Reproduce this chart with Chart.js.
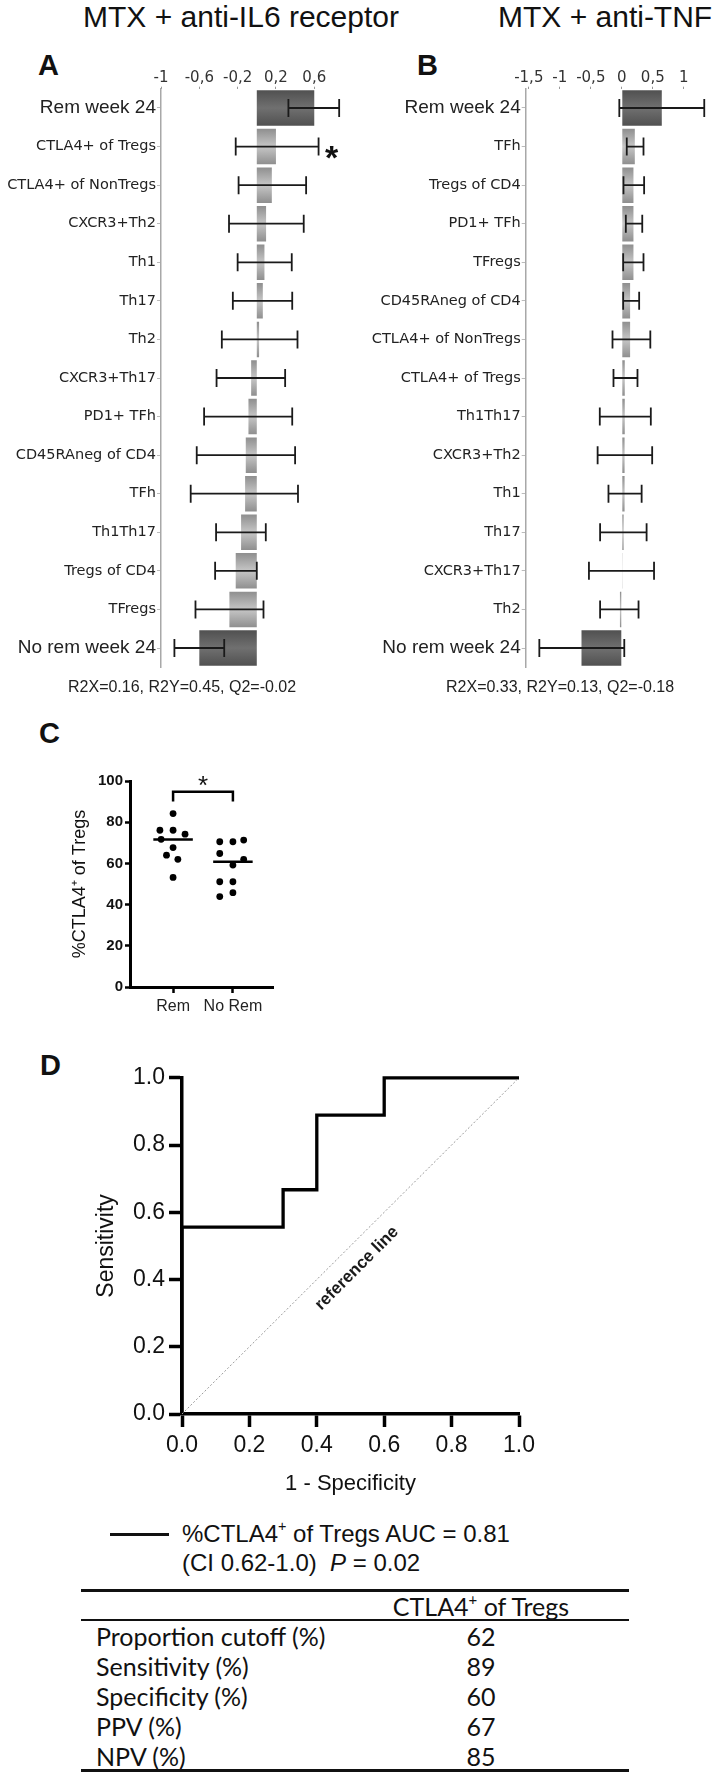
<!DOCTYPE html>
<html>
<head>
<meta charset="utf-8">
<script src="https://cdn.jsdelivr.net/npm/chart.js@4.4.1/dist/chart.umd.min.js"></script>
<style>
body{margin:0;background:#fff;}
#page{position:relative;width:720px;height:1774px;overflow:hidden;font-family:"Liberation Sans",Arial,sans-serif;color:#111;}
.t{position:absolute;white-space:nowrap;}
canvas{position:absolute;}
.rule{position:absolute;background:#111;}
.tab{font-family:Lato,"Open Sans",sans-serif;font-size:25px;line-height:28px;color:#111;}
sup{font-size:60%;line-height:0;vertical-align:0.75em;}
</style>
</head>
<body>
<div id="page">
  <div class="t" style="left:83px;top:0;font-size:30px;line-height:34px">MTX + anti-IL6 receptor</div>
  <div class="t" style="left:498px;top:0;font-size:30px;line-height:34px">MTX + anti-TNF</div>
  <div class="t" style="left:38px;top:48px;font-size:29px;line-height:34px;font-weight:bold">A</div>
  <div class="t" style="left:417px;top:48px;font-size:29px;line-height:34px;font-weight:bold">B</div>
  <canvas id="cA" width="350" height="620" style="left:0;top:60px"></canvas>
  <canvas id="cB" width="370" height="620" style="left:350px;top:60px"></canvas>
  <div class="t" style="left:68px;top:677px;font-size:16px;line-height:20px;color:#222">R2X=0.16, R2Y=0.45, Q2=-0.02</div>
  <div class="t" style="left:446px;top:677px;font-size:16px;line-height:20px;color:#222">R2X=0.33, R2Y=0.13, Q2=-0.18</div>

  <div class="t" style="left:39px;top:716px;font-size:29px;line-height:34px;font-weight:bold">C</div>
  <canvas id="cC" width="240" height="270" style="left:60px;top:760px"></canvas>

  <div class="t" style="left:40px;top:1048px;font-size:29px;line-height:34px;font-weight:bold">D</div>
  <canvas id="cD" width="480" height="440" style="left:60px;top:1060px"></canvas>

  <div class="rule" style="left:110px;top:1533px;width:59px;height:2.5px"></div>
  <div class="t" style="left:182px;top:1520px;font-size:24px;line-height:28px">%CTLA4<sup>+</sup> of Tregs AUC = 0.81</div>
  <div class="t" style="left:182px;top:1549px;font-size:24px;line-height:28px">(CI 0.62-1.0)&nbsp; <i>P</i> = 0.02</div>

  <div class="rule" style="left:81px;top:1589px;width:548px;height:2.5px"></div>
  <div class="t tab" style="left:371px;top:1592px;width:220px;text-align:center">CTLA4<sup>+</sup> of Tregs</div>
  <div class="rule" style="left:81px;top:1619px;width:548px;height:2px"></div>
  <div id="rows"></div>
  <div class="rule" style="left:81px;top:1769px;width:548px;height:2.5px"></div>
</div>
<script>
// ---- panel A: MTX + anti-IL6 receptor (coefficients with CI)
const catsA = ["Rem week 24", "CTLA4+ of Tregs", "CTLA4+ of NonTregs", "CXCR3+Th2", "Th1", "Th17", "Th2",
  "CXCR3+Th17", "PD1+ TFh", "CD45RAneg of CD4", "TFh", "Th1Th17", "Tregs of CD4", "TFregs", "No rem week 24"];
const coefA = [0.60, 0.20, 0.157, 0.097, 0.08, 0.063, 0.024, -0.059, -0.087, -0.115, -0.122, -0.164, -0.22, -0.286, -0.60];
const lowA  = [0.33, -0.22, -0.19, -0.29, -0.20, -0.25, -0.365, -0.42, -0.55, -0.627, -0.69, -0.425, -0.435, -0.64, -0.86];
const highA = [0.86, 0.645, 0.515, 0.49, 0.365, 0.37, 0.425, 0.296, 0.37, 0.40, 0.43, 0.094, 0.0, 0.07, -0.34];
const ticksA = [-1, -0.6, -0.2, 0.2, 0.6];

// ---- panel B: MTX + anti-TNF
const catsB = ["Rem week 24", "TFh", "Tregs of CD4", "PD1+ TFh", "TFregs", "CD45RAneg of CD4", "CTLA4+ of NonTregs",
  "CTLA4+ of Tregs", "Th1Th17", "CXCR3+Th2", "Th1", "Th17", "CXCR3+Th17", "Th2", "No rem week 24"];
const coefB = [0.645, 0.21, 0.188, 0.188, 0.188, 0.134, 0.134, 0.048, 0.048, 0.045, 0.045, 0.03, 0.005, -0.03, -0.65];
const lowB  = [-0.04, 0.08, 0.027, 0.065, 0.022, 0.022, -0.15, -0.134, -0.355, -0.39, -0.215, -0.35, -0.53, -0.35, -1.33];
const highB = [1.33, 0.35, 0.36, 0.33, 0.35, 0.28, 0.46, 0.253, 0.468, 0.49, 0.32, 0.40, 0.52, 0.27, 0.04];
const ticksB = [-1.5, -1, -0.5, 0, 0.5, 1];

// ---- panel C: %CTLA4+ of Tregs per group (x jitter in category units)
const groupsC = ["Rem", "No Rem"];
const remVals = [84.2, 76.1, 76.1, 74.2, 71.7, 67.7, 64, 62, 53.2];
const remJit = [0, -0.22, 0, 0.2, -0.2, 0, -0.11, 0.08, 0];
const noRemVals = [70.5, 70.5, 71.3, 64.8, 62, 59.2, 51.1, 51.1, 43.9, 45.8];
const noRemJit = [-0.22, 0, 0.18, -0.22, 0.18, 0, -0.22, 0, -0.22, 0];
const mediansC = [71.6, 60.8];
const ticksC = [0, 20, 40, 60, 80, 100];

// ---- panel D: ROC curve
const rocFpr = [0, 0, 0.3, 0.3, 0.4, 0.4, 0.6, 0.6, 1];
const rocTpr = [0, 0.556, 0.556, 0.667, 0.667, 0.889, 0.889, 1, 1];
const ticksD = [0, 0.2, 0.4, 0.6, 0.8, 1];

// ---- table
const tableRows = ["Proportion cutoff (%)", "Sensitivity (%)", "Specificity (%)", "PPV (%)", "NPV (%)"];
const tableVals = [62, 89, 60, 67, 85];

Chart.defaults.animation = false;
Chart.defaults.font.family = '"Liberation Sans", Arial, sans-serif';
Chart.defaults.color = '#222';
Chart.defaults.plugins.legend.display = false;
Chart.defaults.plugins.tooltip.enabled = false;

const setTicks = vals => s => { s.ticks = vals.map(v => ({ value: v })); };

function barPanel(id, cats, coef, low, high, opt) {
  const n = cats.length;
  const errPlugin = {
    id: 'err_' + id,
    afterDatasetsDraw(chart) {
      const { ctx, scales: { x, y } } = chart;
      ctx.save();
      ctx.strokeStyle = '#1a1a1a';
      ctx.lineWidth = 1.8;
      for (let i = 0; i < n; i++) {
        const yy = y.getPixelForValue(i);
        const x1 = x.getPixelForValue(low[i]), x2 = x.getPixelForValue(high[i]);
        ctx.beginPath();
        ctx.moveTo(x1, yy); ctx.lineTo(x2, yy);
        ctx.moveTo(x1, yy - 9); ctx.lineTo(x1, yy + 9);
        ctx.moveTo(x2, yy - 9); ctx.lineTo(x2, yy + 9);
        ctx.stroke();
      }
      if (opt.star != null) {
        const i = opt.star;
        ctx.fillStyle = '#111';
        ctx.font = 'bold 34px "Liberation Sans"';
        ctx.textAlign = 'center';
        ctx.textBaseline = 'alphabetic';
        ctx.fillText('*', x.getPixelForValue(high[i]) + 13, y.getPixelForValue(i) + 22);
      }
      ctx.restore();
    }
  };
  const shade = c => {
    const ch = c.chart, ys = ch.scales.y;
    const dark = c.dataIndex === 0 || c.dataIndex === n - 1;
    const flat = dark ? '#606060' : '#aaaaaa';
    if (!ys) return flat;
    const yc = ys.getPixelForValue(c.dataIndex);
    if (!isFinite(yc)) return flat;
    const g = ch.ctx.createLinearGradient(0, yc - 18, 0, yc + 18);
    g.addColorStop(0, dark ? '#505050' : '#8e8e8e');
    g.addColorStop(0.5, dark ? '#707070' : '#c6c6c6');
    g.addColorStop(1, dark ? '#505050' : '#8e8e8e');
    return g;
  };
  return new Chart(document.getElementById(id), {
    type: 'bar',
    data: {
      labels: cats,
      datasets: [{ data: coef, backgroundColor: shade, borderWidth: 0, barPercentage: 0.92, categoryPercentage: 1 }]
    },
    options: {
      responsive: false,
      indexAxis: 'y',
      layout: { padding: { left: 0, top: 0, right: opt.padR, bottom: 12.7 } },
      scales: {
        x: {
          type: 'linear', position: 'top', min: opt.min, max: opt.max,
          afterBuildTicks: setTicks(opt.ticks),
          afterFit: s => { s.height = 28.7; },
          grid: { drawOnChartArea: false, tickLength: 2, color: '#999' },
          border: { display: false },
          ticks: {
            autoSkip: false, maxRotation: 0, padding: 0, color: '#333',
            font: { family: '"DejaVu Sans"', size: 15 },
            callback: v => String(v).replace('.', ',')
          }
        },
        y: {
          afterFit: s => { s.width = opt.axisW; },
          grid: { drawOnChartArea: false, offset: false, tickLength: 4, color: '#bbb' },
          border: { color: '#a8a8a8', width: 1.5 },
          ticks: {
            autoSkip: false, padding: 1, color: '#222',
            font: c => (c.index === 0 || c.index === n - 1)
              ? { family: '"Liberation Sans"', size: 19 }
              : { family: '"DejaVu Sans"', size: 14.5 }
          }
        }
      }
    },
    plugins: [errPlugin]
  });
}

barPanel('cA', catsA, coefA, lowA, highA, { min: -1, max: 0.9, ticks: ticksA, axisW: 161, padR: 7, star: 1 });
barPanel('cB', catsB, coefB, lowB, highB, { min: -1.55, max: 1.45, ticks: ticksB, axisW: 175.7, padR: 8.3, star: null });

// ---- panel C chart
const bracketC = { top: 94.8, foot: 90, starY: 100.5 };
const medHalf = 0.33;
const starPluginC = {
  id: 'starC',
  afterDatasetsDraw(chart) {
    const { ctx, scales: { x, y } } = chart;
    ctx.save();
    ctx.fillStyle = '#111';
    ctx.font = '26px "Liberation Sans"';
    ctx.textAlign = 'center';
    ctx.textBaseline = 'alphabetic';
    ctx.fillText('*', x.getPixelForValue(0.5), y.getPixelForValue(bracketC.starY) + 14);
    ctx.restore();
  }
};
new Chart(document.getElementById('cC'), {
  type: 'scatter',
  data: {
    datasets: [
      { data: remVals.map((v, i) => ({ x: remJit[i], y: v })), pointRadius: 3.4, backgroundColor: '#000', borderWidth: 0, clip: false },
      { data: noRemVals.map((v, i) => ({ x: 1 + noRemJit[i], y: v })), pointRadius: 3.4, backgroundColor: '#000', borderWidth: 0, clip: false },
      { showLine: true, data: [{ x: -medHalf, y: mediansC[0] }, { x: medHalf, y: mediansC[0] }], borderColor: '#000', borderWidth: 2.5, pointRadius: 0 },
      { showLine: true, data: [{ x: 1 - medHalf, y: mediansC[1] }, { x: 1 + medHalf, y: mediansC[1] }], borderColor: '#000', borderWidth: 2.5, pointRadius: 0 },
      { showLine: true, data: [{ x: 0, y: bracketC.foot }, { x: 0, y: bracketC.top }, { x: 1, y: bracketC.top }, { x: 1, y: bracketC.foot }],
        borderColor: '#000', borderWidth: 2.5, pointRadius: 0, clip: false }
    ]
  },
  options: {
    responsive: false,
    layout: { padding: { left: 0, top: 21, right: 27, bottom: 0 } },
    scales: {
      x: {
        type: 'linear', min: -0.72, max: 1.67,
        afterBuildTicks: setTicks([0, 1]),
        afterFit: s => { s.height = 43; },
        grid: { drawOnChartArea: false, tickLength: 6, tickWidth: 2.5, tickColor: '#000' },
        border: { color: '#000', width: 3 },
        ticks: { padding: 4, color: '#222', font: { size: 16 }, callback: v => groupsC[v] }
      },
      y: {
        min: 0, max: 100,
        afterBuildTicks: setTicks(ticksC),
        afterFit: s => { s.width = 70; },
        grid: { drawOnChartArea: false, tickLength: 5, tickWidth: 2.5, tickColor: '#000' },
        border: { color: '#000', width: 3 },
        ticks: { padding: 2, color: '#111', font: { size: 15, weight: 'bold' } },
        title: { display: true, text: '%CTLA4\u207A of Tregs', color: '#111', font: { size: 18 }, padding: { top: 9, bottom: 0 } }
      }
    }
  },
  plugins: [starPluginC]
});

// ---- panel D chart
const refLabel = { x: 0.519, y: 0.433, text: 'reference line' };
const refPlugin = {
  id: 'refLabel',
  afterDatasetsDraw(chart) {
    const { ctx, scales: { x, y } } = chart;
    ctx.save();
    ctx.translate(x.getPixelForValue(refLabel.x), y.getPixelForValue(refLabel.y));
    ctx.rotate(-Math.PI / 4);
    ctx.fillStyle = '#1a1a1a';
    ctx.font = 'bold 17px "Liberation Sans"';
    ctx.textAlign = 'center';
    ctx.textBaseline = 'middle';
    ctx.fillText(refLabel.text, 0, 0);
    ctx.restore();
  }
};
new Chart(document.getElementById('cD'), {
  type: 'scatter',
  data: {
    datasets: [
      { showLine: true, data: [{ x: 0, y: 0 }, { x: 1, y: 1 }], borderColor: '#9a9a9a', borderWidth: 1, borderDash: [2, 2], pointRadius: 0 },
      { showLine: true, data: rocFpr.map((v, i) => ({ x: v, y: rocTpr[i] })), borderColor: '#000', borderWidth: 3.3,
        pointRadius: 0, clip: false, borderJoinStyle: 'miter' }
    ]
  },
  options: {
    responsive: false,
    layout: { padding: { left: 0, top: 17, right: 21, bottom: 0 } },
    scales: {
      x: {
        type: 'linear', min: 0, max: 1,
        afterBuildTicks: setTicks(ticksD),
        afterFit: s => { s.height = 86; },
        grid: { drawOnChartArea: false, tickLength: 13, tickWidth: 3.5, tickColor: '#000' },
        border: { color: '#000', width: 3.5 },
        ticks: { padding: 5, color: '#111', font: { size: 23 }, callback: v => v.toFixed(1) },
        title: { display: true, text: '1 - Specificity', color: '#111', font: { size: 22 }, padding: { top: 0, bottom: 2.8 } }
      },
      y: {
        min: 0, max: 1,
        afterBuildTicks: setTicks(ticksD),
        afterFit: s => { s.width = 122; },
        grid: { drawOnChartArea: false, tickLength: 13, tickWidth: 3.5, tickColor: '#000' },
        border: { color: '#000', width: 3.5 },
        ticks: { padding: 4, color: '#111', font: { size: 23 }, callback: v => v.toFixed(1) },
        title: { display: true, text: 'Sensitivity', color: '#111', font: { size: 23 }, padding: { top: 33, bottom: 0 } }
      }
    }
  },
  plugins: [refPlugin]
});

// ---- table rows
const rowsEl = document.getElementById('rows');
const rowCenters = [1636, 1666, 1696, 1726, 1756];
tableRows.forEach((name, i) => {
  const top = rowCenters[i] - 14;
  rowsEl.insertAdjacentHTML('beforeend',
    `<div class="t tab" style="left:96px;top:${top}px">${name}</div>` +
    `<div class="t tab" style="left:431px;top:${top}px;width:100px;text-align:center">${tableVals[i]}</div>`);
});
</script>
</body>
</html>
